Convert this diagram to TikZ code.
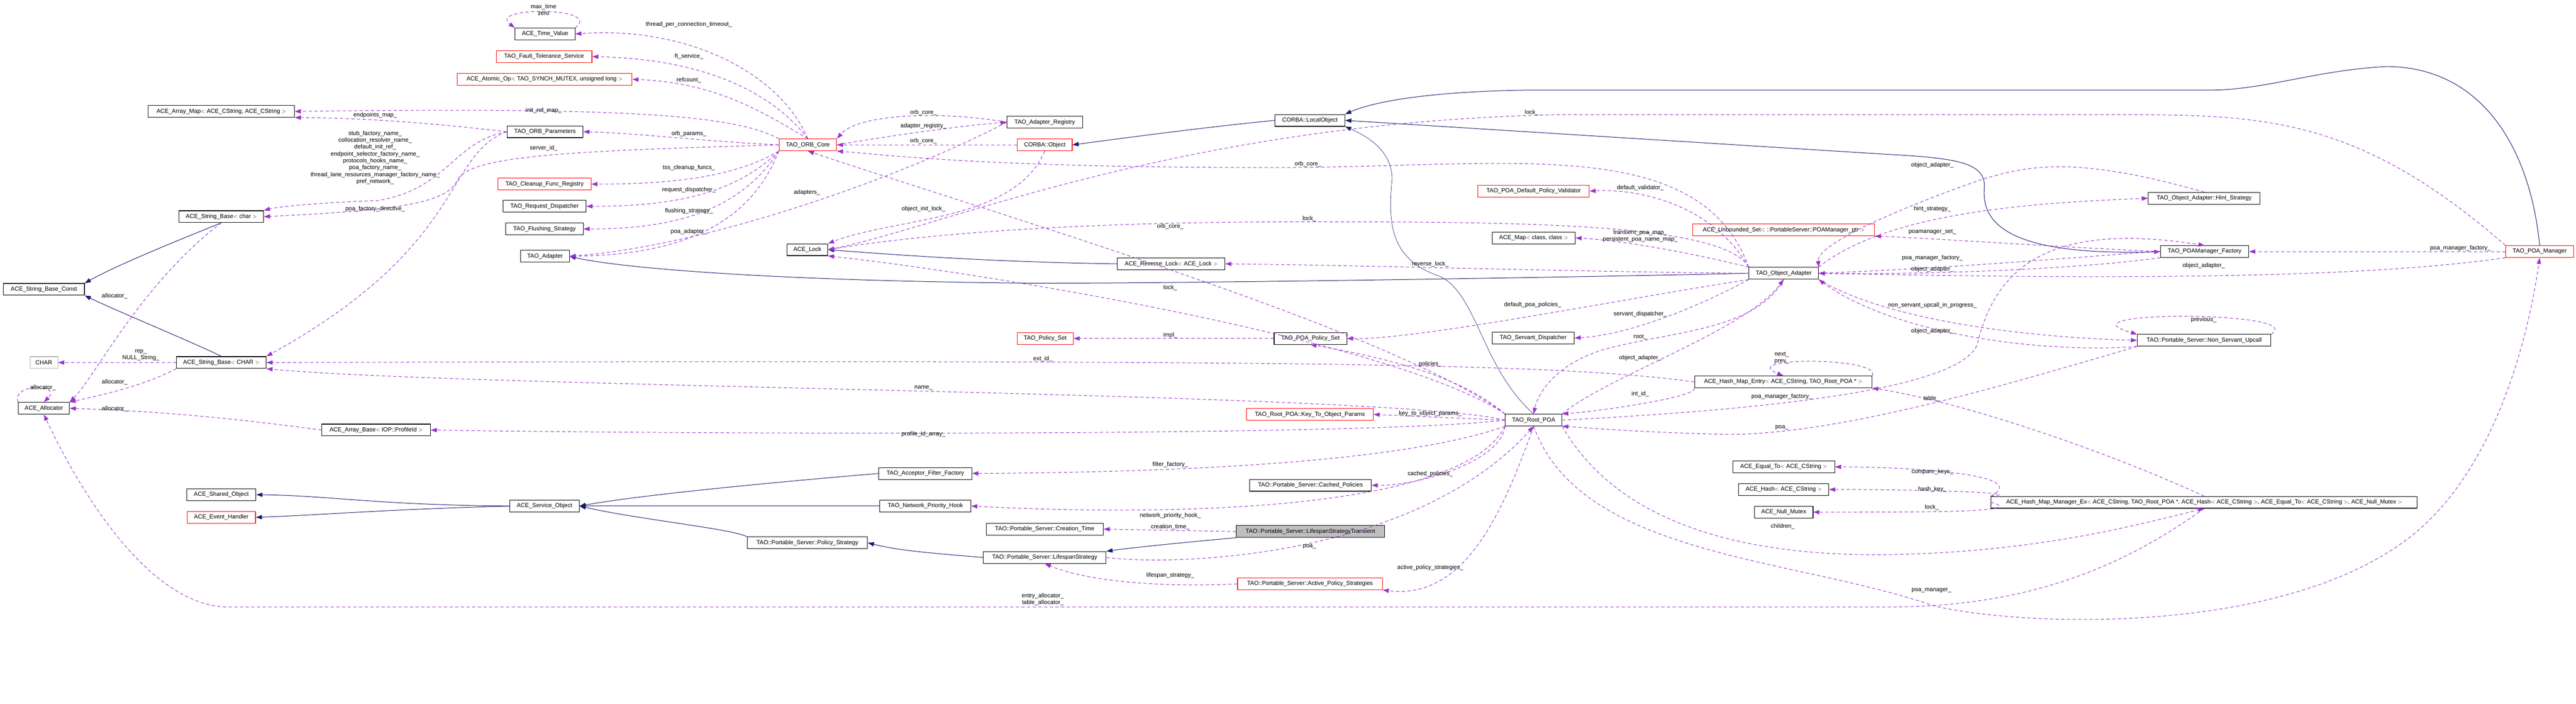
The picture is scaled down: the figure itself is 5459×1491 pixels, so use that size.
\documentclass[tikz,border=0pt]{standalone}
\usepackage{fontspec}
\setmainfont{Liberation Sans}
\usetikzlibrary{arrows.meta}
\definecolor{usec}{HTML}{9A32CD}
\definecolor{inhc}{HTML}{191970}
\tikzset{
  cls/.style={draw=black, line width=1.2pt, minimum height=25pt, inner sep=2pt, font=\fontsize{12.5}{14}\selectfont},
  redc/.style={cls, draw=red},
  grayc/.style={cls, draw=black!30},
  hl/.style={cls, fill=black!25},
  use/.style={draw=usec, line width=1.1pt, dash pattern=on 7pt off 5pt, -{Triangle[length=13pt,width=9pt]}},
  inh/.style={draw=inhc, line width=1.1pt, -{Triangle[length=13pt,width=9pt]}},
  lbl/.style={font=\fontsize{12.5}{14.5}\selectfont, inner sep=0pt, align=center}
}
\begin{document}
\begin{tikzpicture}[x=1pt,y=-1pt]
\useasboundingbox (0,0) rectangle (5459,1491);
% ---- nodes
\node[cls, minimum width=127pt] (tv) at (1155,72) {ACE\_Time\_Value};
\node[redc, minimum width=203pt] (ft) at (1153,120) {TAO\_Fault\_Tolerance\_Service};
\node[redc, minimum width=371pt] (atom) at (1154,168) {ACE\_Atomic\_Op$<$ TAO\_SYNCH\_MUTEX, unsigned long $>$};
\node[cls, minimum width=310pt] (amap) at (469,236) {ACE\_Array\_Map$<$ ACE\_CString, ACE\_CString $>$};
\node[cls, minimum width=161pt] (orbp) at (1155,279) {TAO\_ORB\_Parameters};
\node[redc, minimum width=197pt] (clean) at (1154,390) {TAO\_Cleanup\_Func\_Registry};
\node[cls, minimum width=176pt] (rdisp) at (1154,437) {TAO\_Request\_Dispatcher};
\node[cls, minimum width=164pt] (flush) at (1154,485) {TAO\_Flushing\_Strategy};
\node[cls, minimum width=103pt] (tadp) at (1155,543) {TAO\_Adapter};
\node[cls, minimum width=179pt] (sbc) at (469,459) {ACE\_String\_Base$<$ char $>$};
\node[cls, minimum width=172pt] (sbconst) at (93,613) {ACE\_String\_Base\_Const};
\node[grayc, minimum width=59pt] (chr) at (93,768) {CHAR};
\node[cls, minimum width=190pt] (sBC) at (469,768) {ACE\_String\_Base$<$ CHAR $>$};
\node[cls, minimum width=108pt] (alloc) at (93,865) {ACE\_Allocator};
\node[cls, minimum width=230pt] (abase) at (797,911) {ACE\_Array\_Base$<$ IOP::ProfileId $>$};
\node[cls, minimum width=147pt] (shobj) at (469,1048) {ACE\_Shared\_Object};
\node[redc, minimum width=145pt] (evh) at (469,1096) {ACE\_Event\_Handler};
\node[cls, minimum width=147pt] (svc) at (1154,1072) {ACE\_Service\_Object};
\node[redc, minimum width=122pt] (orb) at (1712,307) {TAO\_ORB\_Core};
\node[cls, minimum width=160pt] (areg) at (2214,259) {TAO\_Adapter\_Registry};
\node[redc, minimum width=116pt] (cobj) at (2214,307) {CORBA::Object};
\node[cls, minimum width=148pt] (lobj) at (2776,255) {CORBA::LocalObject};
\node[cls, minimum width=86pt] (lock) at (1711,529) {ACE\_Lock};
\node[cls, minimum width=228pt] (rlock) at (2482,559) {ACE\_Reverse\_Lock$<$ ACE\_Lock $>$};
\node[redc, minimum width=119pt] (pset) at (2215,717) {TAO\_Policy\_Set};
\node[cls, minimum width=154pt] (ppset) at (2777,717) {TAO\_POA\_Policy\_Set};
\node[redc, minimum width=268pt] (k2o) at (2776,878) {TAO\_Root\_POA::Key\_To\_Object\_Params};
\node[cls, minimum width=197pt] (aff) at (1961,1003) {TAO\_Acceptor\_Filter\_Factory};
\node[cls, minimum width=258pt] (cpol) at (2777,1028) {TAO::Portable\_Server::Cached\_Policies};
\node[cls, minimum width=193pt] (nph) at (1961,1072) {TAO\_Network\_Priority\_Hook};
\node[cls, minimum width=248pt] (ctime) at (2214,1121) {TAO::Portable\_Server::Creation\_Time};
\node[hl, minimum width=314pt] (lst) at (2777,1126) {TAO::Portable\_Server::LifespanStrategyTransient};
\node[cls, minimum width=255pt] (pstr) at (1711,1150) {TAO::Portable\_Server::Policy\_Strategy};
\node[cls, minimum width=260pt] (ls) at (2214,1181) {TAO::Portable\_Server::LifespanStrategy};
\node[redc, minimum width=307pt] (aps) at (2776,1237) {TAO::Portable\_Server::Active\_Policy\_Strategies};
\node[redc, minimum width=236pt] (dpv) at (3250,405) {TAO\_POA\_Default\_Policy\_Validator};
\node[cls, minimum width=176pt] (amp) at (3250,504) {ACE\_Map$<$ class, class $>$};
\node[redc, minimum width=385pt] (uset) at (3780,487) {ACE\_Unbounded\_Set$<$ ::PortableServer::POAManager\_ptr $>$};
\node[cls, minimum width=147pt] (oa) at (3780,579) {TAO\_Object\_Adapter};
\node[cls, minimum width=174pt] (sdisp) at (3249,716) {TAO\_Servant\_Dispatcher};
\node[cls, minimum width=120pt] (rp) at (3250,890) {TAO\_Root\_POA};
\node[cls, minimum width=376pt] (hme) at (3779,809) {ACE\_Hash\_Map\_Entry$<$ ACE\_CString, TAO\_Root\_POA * $>$};
\node[cls, minimum width=216pt] (eqt) at (3780,989) {ACE\_Equal\_To$<$ ACE\_CString $>$};
\node[cls, minimum width=191pt] (hsh) at (3780,1037) {ACE\_Hash$<$ ACE\_CString $>$};
\node[cls, minimum width=124pt] (nmx) at (3780,1085) {ACE\_Null\_Mutex};
\node[cls, minimum width=237pt] (hint) at (4671,420) {TAO\_Object\_Adapter::Hint\_Strategy};
\node[cls, minimum width=187pt] (pmf) at (4672,533) {TAO\_POAManager\_Factory};
\node[redc, minimum width=144pt] (pm) at (5382,533) {TAO\_POA\_Manager};
\node[cls, minimum width=283pt] (nsu) at (4671,721) {TAO::Portable\_Server::Non\_Servant\_Upcall};
\node[cls, minimum width=903pt] (hmm) at (4671,1064) {ACE\_Hash\_Map\_Manager\_Ex$<$ ACE\_CString, TAO\_Root\_POA *, ACE\_Hash$<$ ACE\_CString $>$, ACE\_Equal\_To$<$ ACE\_CString $>$, ACE\_Null\_Mutex $>$};
% ---- inheritance
\draw[inh] (sbc.south) .. controls (400,500) and (250,560) .. (sbconst.north east);
\draw[inh] (sBC.north) .. controls (420,730) and (250,660) .. (sbconst.south east);
\draw[inh] (lobj.west) .. controls (2550,270) and (2400,290) .. (cobj.east);
\draw[inh] (pm.north) .. controls (5360,300) and (5250,140) .. (5055,141) .. controls (4900,150) and (4800,191) .. (4680,191) -- (3230,191) .. controls (3000,195) and (2900,220) .. (lobj.north east);
\draw[inh] (pmf.west) .. controls (4250,545) and (4200,470) .. (4205,400) .. controls (4210,345) and (4150,335) .. (4000,327) -- (lobj.east);
\draw[inh, line width=0.7pt] (rp.north) .. controls (3140,780) and (3130,620) .. (3050,585) .. controls (2950,550) and (2940,480) .. (2950,380) .. controls (2950,320) and (2900,290) .. (lobj.south east);
\draw[inh] (rlock.west) .. controls (2100,555) and (1900,540) .. (lock.east);
\draw[inh] (oa.west) .. controls (3200,590) and (2500,600) .. (2200,600) .. controls (1600,595) and (1300,565) .. (tadp.east);
\draw[inh] (svc.west) .. controls (800,1070) and (700,1050) .. (shobj.east);
\draw[inh] (svc.west) .. controls (800,1080) and (700,1090) .. (evh.east);
\draw[inh] (aff.west) .. controls (1600,1025) and (1350,1050) .. (svc.east);
\draw[inh] (nph.west) -- (svc.east);
\draw[inh] (pstr.north west) .. controls (1550,1120) and (1350,1100) .. (svc.east);
\draw[inh] (ls.west) .. controls (1950,1170) and (1900,1165) .. (pstr.east);
\draw[inh] (lst.south west) .. controls (2500,1150) and (2400,1160) .. (ls.north east);
% ---- usage
\draw[use] (tv.north east) .. controls +(60,-45) and +(-60,-45) .. (tv.north west);
\draw[use] (orb.north) .. controls (1650,150) and (1450,55) .. (tv.east);
\draw[use] (orb.north) .. controls (1640,200) and (1500,125) .. (ft.east);
\draw[use] (orb.north) .. controls (1620,240) and (1520,175) .. (atom.east);
\draw[use] (orb.north west) .. controls (1550,240) and (1300,228) .. (amap.east);
\draw[use] (orbp.west) .. controls (950,265) and (800,250) .. (amap.south east);
\draw[use] (orb.west) .. controls (1500,300) and (1350,282) .. (orbp.east);
\draw[use] (orbp.west) .. controls (960,300) and (950,400) .. (800,425) .. controls (650,430) and (580,440) .. (sbc.north east);
\draw[use] (orb.west) .. controls (1200,320) and (1000,330) .. (970,380) .. controls (950,430) and (850,445) .. (sbc.east);
\draw[use] (orbp.west) .. controls (940,330) and (990,520) .. (sBC.north east);
\draw[use] (orb.south west) .. controls (1550,380) and (1400,390) .. (clean.east);
\draw[use] (orb.south west) .. controls (1550,420) and (1400,437) .. (rdisp.east);
\draw[use] (orb.south west) .. controls (1560,460) and (1400,485) .. (flush.east);
\draw[use] (orb.south west) .. controls (1580,500) and (1400,540) .. (tadp.east);
\draw[use] (areg.west) .. controls (2000,235) and (1820,240) .. (orb.north east);
\draw[use] (orb.east) .. controls (1900,285) and (2050,265) .. (areg.west);
\draw[use] (cobj.west) -- (orb.east);
\draw[use] (oa.north west) .. controls (3600,280) and (3200,355) .. (2700,355) .. controls (2100,355) and (1900,330) .. (orb.south east);
\draw[use] (areg.west) .. controls (1900,380) and (1500,520) .. (tadp.east);
\draw[use] (rp.north west) .. controls (2950,700) and (2100,450) .. (orb.south);
\draw[use] (cobj.south) .. controls (2150,470) and (1900,460) .. (lock.north east);
\draw[use] (pm.north west) .. controls (5000,250) and (4800,243) .. (4500,243) -- (3300,243) .. controls (2500,260) and (2000,480) .. (lock.east);
\draw[use] (oa.north west) .. controls (3650,470) and (3200,470) .. (2750,470) .. controls (2200,470) and (1900,505) .. (lock.east);
\draw[use] (rp.north west) .. controls (2950,720) and (2100,580) .. (lock.south east);
\draw[use] (oa.west) .. controls (3300,575) and (2900,562) .. (rlock.east);
\draw[use] (ppset.west) -- (pset.east);
\draw[use] (oa.south west) .. controls (3400,640) and (3000,720) .. (ppset.east);
\draw[use] (rp.north west) .. controls (3100,800) and (2950,760) .. (ppset.south);
\draw[use] (hme.west) .. controls (3300,770) and (2800,762) .. (sBC.east);
\draw[use] (rp.west) .. controls (2950,830) and (1000,822) .. (sBC.south east);
\draw[use] (sBC.west) -- node[lbl, above=3pt, pos=0.3] {rep\_\\NULL\_String\_} (chr.east);
\draw[use] (sbc.south) .. controls (300,600) and (200,800) .. (alloc.north east);
\draw[use] (sBC.south west) .. controls (300,820) and (200,840) .. (alloc.north east);
\draw[use] (alloc.north west) .. controls +(-15,-40) and +(40,-40) .. (alloc.north);
\draw[use] (abase.west) .. controls (450,880) and (300,870) .. (alloc.east);
\draw[use] (rp.west) .. controls (2900,925) and (1500,920) .. (abase.east);
\draw[use] (hmm.south) .. controls (4500,1200) and (4300,1286) .. (4000,1286) -- (480,1286) .. controls (300,1280) and (150,1000) .. (alloc.south);
\draw[use] (rp.west) -- (k2o.east);
\draw[use] (rp.south west) .. controls (3000,970) and (2600,1000) .. (aff.east);
\draw[use] (rp.south west) .. controls (3180,980) and (3000,1030) .. (cpol.east);
\draw[use] (rp.south west) .. controls (3100,1080) and (2500,1095) .. (nph.east);
\draw[use] (lst.west) -- (ctime.east);
\draw[use] (ls.east) .. controls (2500,1200) and (3000,1180) .. (rp.south);
\draw[use] (aps.west) .. controls (2450,1245) and (2300,1230) .. (ls.south);
\draw[use] (rp.south) .. controls (3180,1100) and (3100,1270) .. (aps.south east);
\draw[use] (oa.north west) .. controls (3620,420) and (3450,400) .. (dpv.east);
\draw[use] (oa.north west) .. controls (3600,540) and (3450,510) .. (amp.east);
\draw[use] (oa.south west) .. controls (3600,650) and (3450,710) .. (sdisp.east);
\draw[use] (oa.south) .. controls (3720,700) and (3550,700) .. (3400,740) .. controls (3300,770) and (3260,830) .. (rp.north);
\draw[use] (rp.north east) .. controls (3400,800) and (3700,700) .. (oa.south);
\draw[use] (hint.north) .. controls (4400,330) and (4300,350) .. (4200,380) .. controls (4000,450) and (3850,520) .. (oa.north east);
\draw[use] (oa.north east) .. controls (4000,450) and (4300,430) .. (hint.west);
\draw[use] (pmf.west) .. controls (4300,520) and (4100,505) .. (uset.south east);
\draw[use] (oa.east) .. controls (4200,565) and (4450,540) .. (pmf.west);
\draw[use] (pmf.south west) .. controls (4400,570) and (4100,582) .. (oa.east);
\draw[use] (pm.south west) .. controls (5000,590) and (4500,592) .. (oa.east);
\draw[use] (nsu.south west) .. controls (4300,750) and (4000,700) .. (oa.south east);
\draw[use] (oa.south east) .. controls (4000,680) and (4300,715) .. (nsu.west);
\draw[use] (nsu.north east) .. controls +(80,-50) and +(-180,-50) .. (nsu.north west);
\draw[use] (nsu.south west) .. controls (4300,800) and (3900,925) .. (3650,920) .. controls (3450,915) and (3350,905) .. (rp.south east);
\draw[use] (pm.west) -- (pmf.east);
\draw[use] (rp.east) .. controls (3700,870) and (4150,830) .. (4190,730) .. controls (4230,560) and (4350,470) .. (pmf.north);
\draw[use] (hme.north east) .. controls +(20,-40) and +(-100,-40) .. (hme.north);
\draw[use] (hme.south west) .. controls (3600,840) and (3400,870) .. (rp.north east);
\draw[use] (hmm.north) .. controls (4450,950) and (4150,850) .. (hme.south east);
\draw[use] (hmm.north west) .. controls (4300,1010) and (4100,990) .. (eqt.east);
\draw[use] (hmm.north west) .. controls (4300,1045) and (4100,1037) .. (hsh.east);
\draw[use] (hmm.west) .. controls (4300,1085) and (4100,1085) .. (nmx.east);
\draw[use] (rp.south east) .. controls (3400,1060) and (3600,1180) .. (4000,1175) .. controls (4300,1170) and (4500,1120) .. (hmm.south);
\draw[use] (rp.south) .. controls (3350,1180) and (3800,1180) .. (4100,1284) .. controls (4300,1330) and (4900,1350) .. (5150,1100) .. controls (5300,950) and (5360,700) .. (pm.south);
% ---- labels
\node[lbl] (l1) at (1152,21) {max\_time\\zero};
\node[lbl] (l2) at (1460,52) {thread\_per\_connection\_timeout\_};
\node[lbl] (l3) at (1460,120) {ft\_service\_};
\node[lbl] (l4) at (1460,170) {refcount\_};
\node[lbl] (l5) at (1152,234) {init\_ref\_map\_};
\node[lbl] (l6) at (795,244) {endpoints\_map\_};
\node[lbl] (l7) at (1460,283) {orb\_params\_};
\node[lbl, font=\fontsize{12.5}{14.6}\selectfont] (l8) at (795,334) {stub\_factory\_name\_\\collocation\_resolver\_name\_\\default\_init\_ref\_\\endpoint\_selector\_factory\_name\_\\protocols\_hooks\_name\_\\poa\_factory\_name\_\\thread\_lane\_resources\_manager\_factory\_name\_\\pref\_network\_};
\node[lbl] (l9) at (1152,314) {server\_id\_};
\node[lbl] (l10) at (795,443) {poa\_factory\_directive\_};
\node[lbl] (l11) at (1460,355) {tss\_cleanup\_funcs\_};
\node[lbl] (l12) at (1460,402) {request\_dispatcher\_};
\node[lbl] (l13) at (1460,447) {flushing\_strategy\_};
\node[lbl] (l14) at (1460,491) {poa\_adapter\_};
\node[lbl] (l15) at (1710,408) {adapters\_};
\node[lbl] (l16) at (1957,238) {orb\_core\_};
\node[lbl] (l17) at (1957,267) {adapter\_registry\_};
\node[lbl] (l18) at (1957,299) {orb\_core\_};
\node[lbl] (l19) at (1957,443) {object\_init\_lock\_};
\node[lbl] (l20) at (2772,348) {orb\_core\_};
\node[lbl] (l21) at (2480,480) {orb\_core\_};
\node[lbl] (l22) at (2775,463) {lock\_};
\node[lbl] (l23) at (2480,610) {lock\_};
\node[lbl] (l24) at (2480,710) {impl\_};
\node[lbl] (l25) at (243,627) {allocator\_};
\node[lbl] (l26) at (243,810) {allocator\_};
\node[lbl] (l27) at (91,822) {allocator\_};
\node[lbl] (l28) at (243,866) {allocator\_};
\node[lbl] (l29) at (2210,760) {ext\_id\_};
\node[lbl] (l30) at (1957,822) {name\_};
\node[lbl] (l31) at (1957,920) {profile\_id\_array\_};
\node[lbl] (l32) at (2480,984) {filter\_factory\_};
\node[lbl] (l33) at (2480,1092) {network\_priority\_hook\_};
\node[lbl] (l34) at (2480,1116) {creation\_time\_};
\node[lbl] (l35) at (2775,1158) {poa\_};
\node[lbl] (l36) at (2480,1219) {lifespan\_strategy\_};
\node[lbl] (l37) at (2210,1270) {entry\_allocator\_\\table\_allocator\_};
\node[lbl] (l38) at (3246,238) {lock\_};
\node[lbl] (l39) at (4095,350) {object\_adapter\_};
\node[lbl] (l40) at (3476,398) {default\_validator\_};
\node[lbl] (l41) at (4095,443) {hint\_strategy\_};
\node[lbl] (l42) at (3476,500) {transient\_poa\_map\_\\persistent\_poa\_name\_map\_};
\node[lbl] (l43) at (4095,491) {poamanager\_set\_};
\node[lbl] (l44) at (3031,559) {reverse\_lock\_};
\node[lbl] (l45) at (4095,546) {poa\_manager\_factory\_};
\node[lbl] (l46) at (4095,571) {object\_adapter\_};
\node[lbl] (l47) at (3248,646) {default\_poa\_policies\_};
\node[lbl] (l48) at (3476,665) {servant\_dispatcher\_};
\node[lbl] (l49) at (4095,647) {non\_servant\_upcall\_in\_progress\_};
\node[lbl] (l50) at (3476,714) {root\_};
\node[lbl] (l51) at (4095,701) {object\_adapter\_};
\node[lbl] (l52) at (3476,758) {object\_adapter\_};
\node[lbl] (l53) at (3776,758) {next\_\\prev\_};
\node[lbl] (l54) at (3031,771) {policies\_};
\node[lbl] (l55) at (3476,835) {int\_id\_};
\node[lbl] (l56) at (3776,840) {poa\_manager\_factory\_};
\node[lbl] (l57) at (4093,844) {table\_};
\node[lbl] (l58) at (3031,876) {key\_to\_object\_params\_};
\node[lbl] (l59) at (3776,906) {poa\_};
\node[lbl] (l60) at (3031,1004) {cached\_policies\_};
\node[lbl] (l61) at (4095,1000) {compare\_keys\_};
\node[lbl] (l62) at (4095,1037) {hash\_key\_};
\node[lbl] (l63) at (4094,1075) {lock\_};
\node[lbl] (l64) at (3778,1115) {children\_};
\node[lbl] (l65) at (3031,1203) {active\_policy\_strategies\_};
\node[lbl] (l66) at (4093,1251) {poa\_manager\_};
\node[lbl] (l67) at (5214,526) {poa\_manager\_factory\_};
\node[lbl] (l68) at (4670,563) {object\_adapter\_};
\node[lbl] (l69) at (4670,678) {previous\_};
\end{tikzpicture}
\end{document}
